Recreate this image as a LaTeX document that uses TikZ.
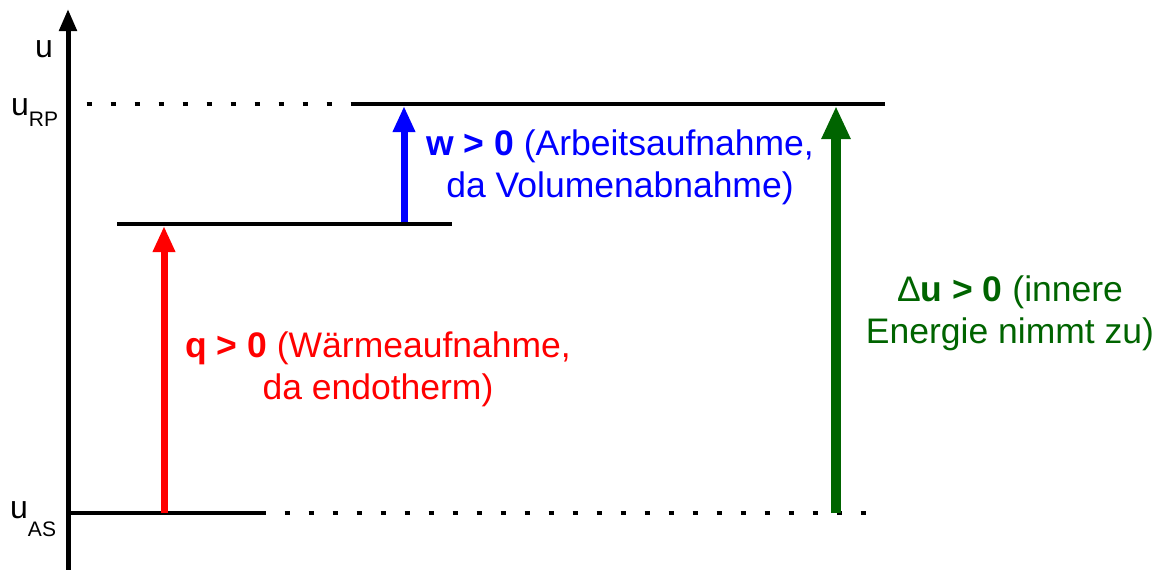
\documentclass[tikz,border=0pt]{standalone}
\usepackage{fontspec}
\setmainfont{Liberation Sans}
\usetikzlibrary{arrows.meta}
\definecolor{dgreen}{RGB}{0,100,0}
\begin{document}
\begin{tikzpicture}[x=1pt,y=-1pt,
  level/.style={line width=4pt},
  dots/.style={line width=4.5pt,dash pattern=on 5.5pt off 18.5pt},
  lbl/.style={inner sep=0pt,anchor=base west,font=\fontsize{32}{32}\selectfont},
  txt/.style={inner sep=0pt,align=center,font=\fontsize{35.5}{42}\selectfont},
  qarrow/.style={draw=red,line width=7pt,-{Triangle[width=21pt,length=26pt]},red},
  warrow/.style={draw=blue,line width=7pt,-{Triangle[width=21pt,length=26pt]},blue},
  uarrow/.style={draw=dgreen,line width=10.5pt,-{Triangle[width=27pt,length=33pt]},dgreen}]
\useasboundingbox (0,0) rectangle (1167,570);
% axis
\coordinate (ax0) at (68,570);
\coordinate (ax1) at (68,9);
\draw[line width=5pt,-{Triangle[width=17pt,length=22pt]}] (ax0) -- (ax1);
\node[lbl] (ulab) at (35,57) {u};
\node[lbl] (urp) at (11,115) {u\raisebox{-11pt}{\fontsize{21}{21}\selectfont RP}};
\node[lbl] (uas) at (10,518) {u\raisebox{-18pt}{\fontsize{21}{21}\selectfont AS}};
% levels
\coordinate (rpA) at (86.5,104);
\coordinate (rpB) at (352,104);
\coordinate (rpC) at (885,104);
\coordinate (mA) at (117,224);
\coordinate (mB) at (452,224);
\coordinate (asA) at (70,513);
\coordinate (asB) at (266,513);
\coordinate (asC) at (284.5,513);
\coordinate (asD) at (867,513);
\draw[dots] (rpA) -- (rpB);
\draw[level] (rpB) -- (rpC);
\draw[level] (mA) -- (mB);
\draw[level] (asA) -- (asB);
\draw[dots] (asC) -- (asD);
% arrows
\coordinate (q0) at (164,513);
\coordinate (q1) at (164,226);
\coordinate (w0) at (404,222);
\coordinate (w1) at (404,106);
\coordinate (u0) at (836,513);
\coordinate (u1) at (836,106);
\draw[qarrow] (q0) -- (q1);
\draw[warrow] (w0) -- (w1);
\draw[uarrow] (u0) -- (u1);
% texts
\node[txt,text=red] (qtxt) at (378,369) {\textbf{q > 0} (Wärmeaufnahme,\\da endotherm)};
\node[txt,text=blue] (wtxt) at (620,167) {\textbf{w > 0} (Arbeitsaufnahme,\\da Volumenabnahme)};
\node[txt,text=dgreen] (utxt) at (1010,313) {Δ\textbf{u > 0} (innere\\Energie nimmt zu)};
\end{tikzpicture}
\end{document}
